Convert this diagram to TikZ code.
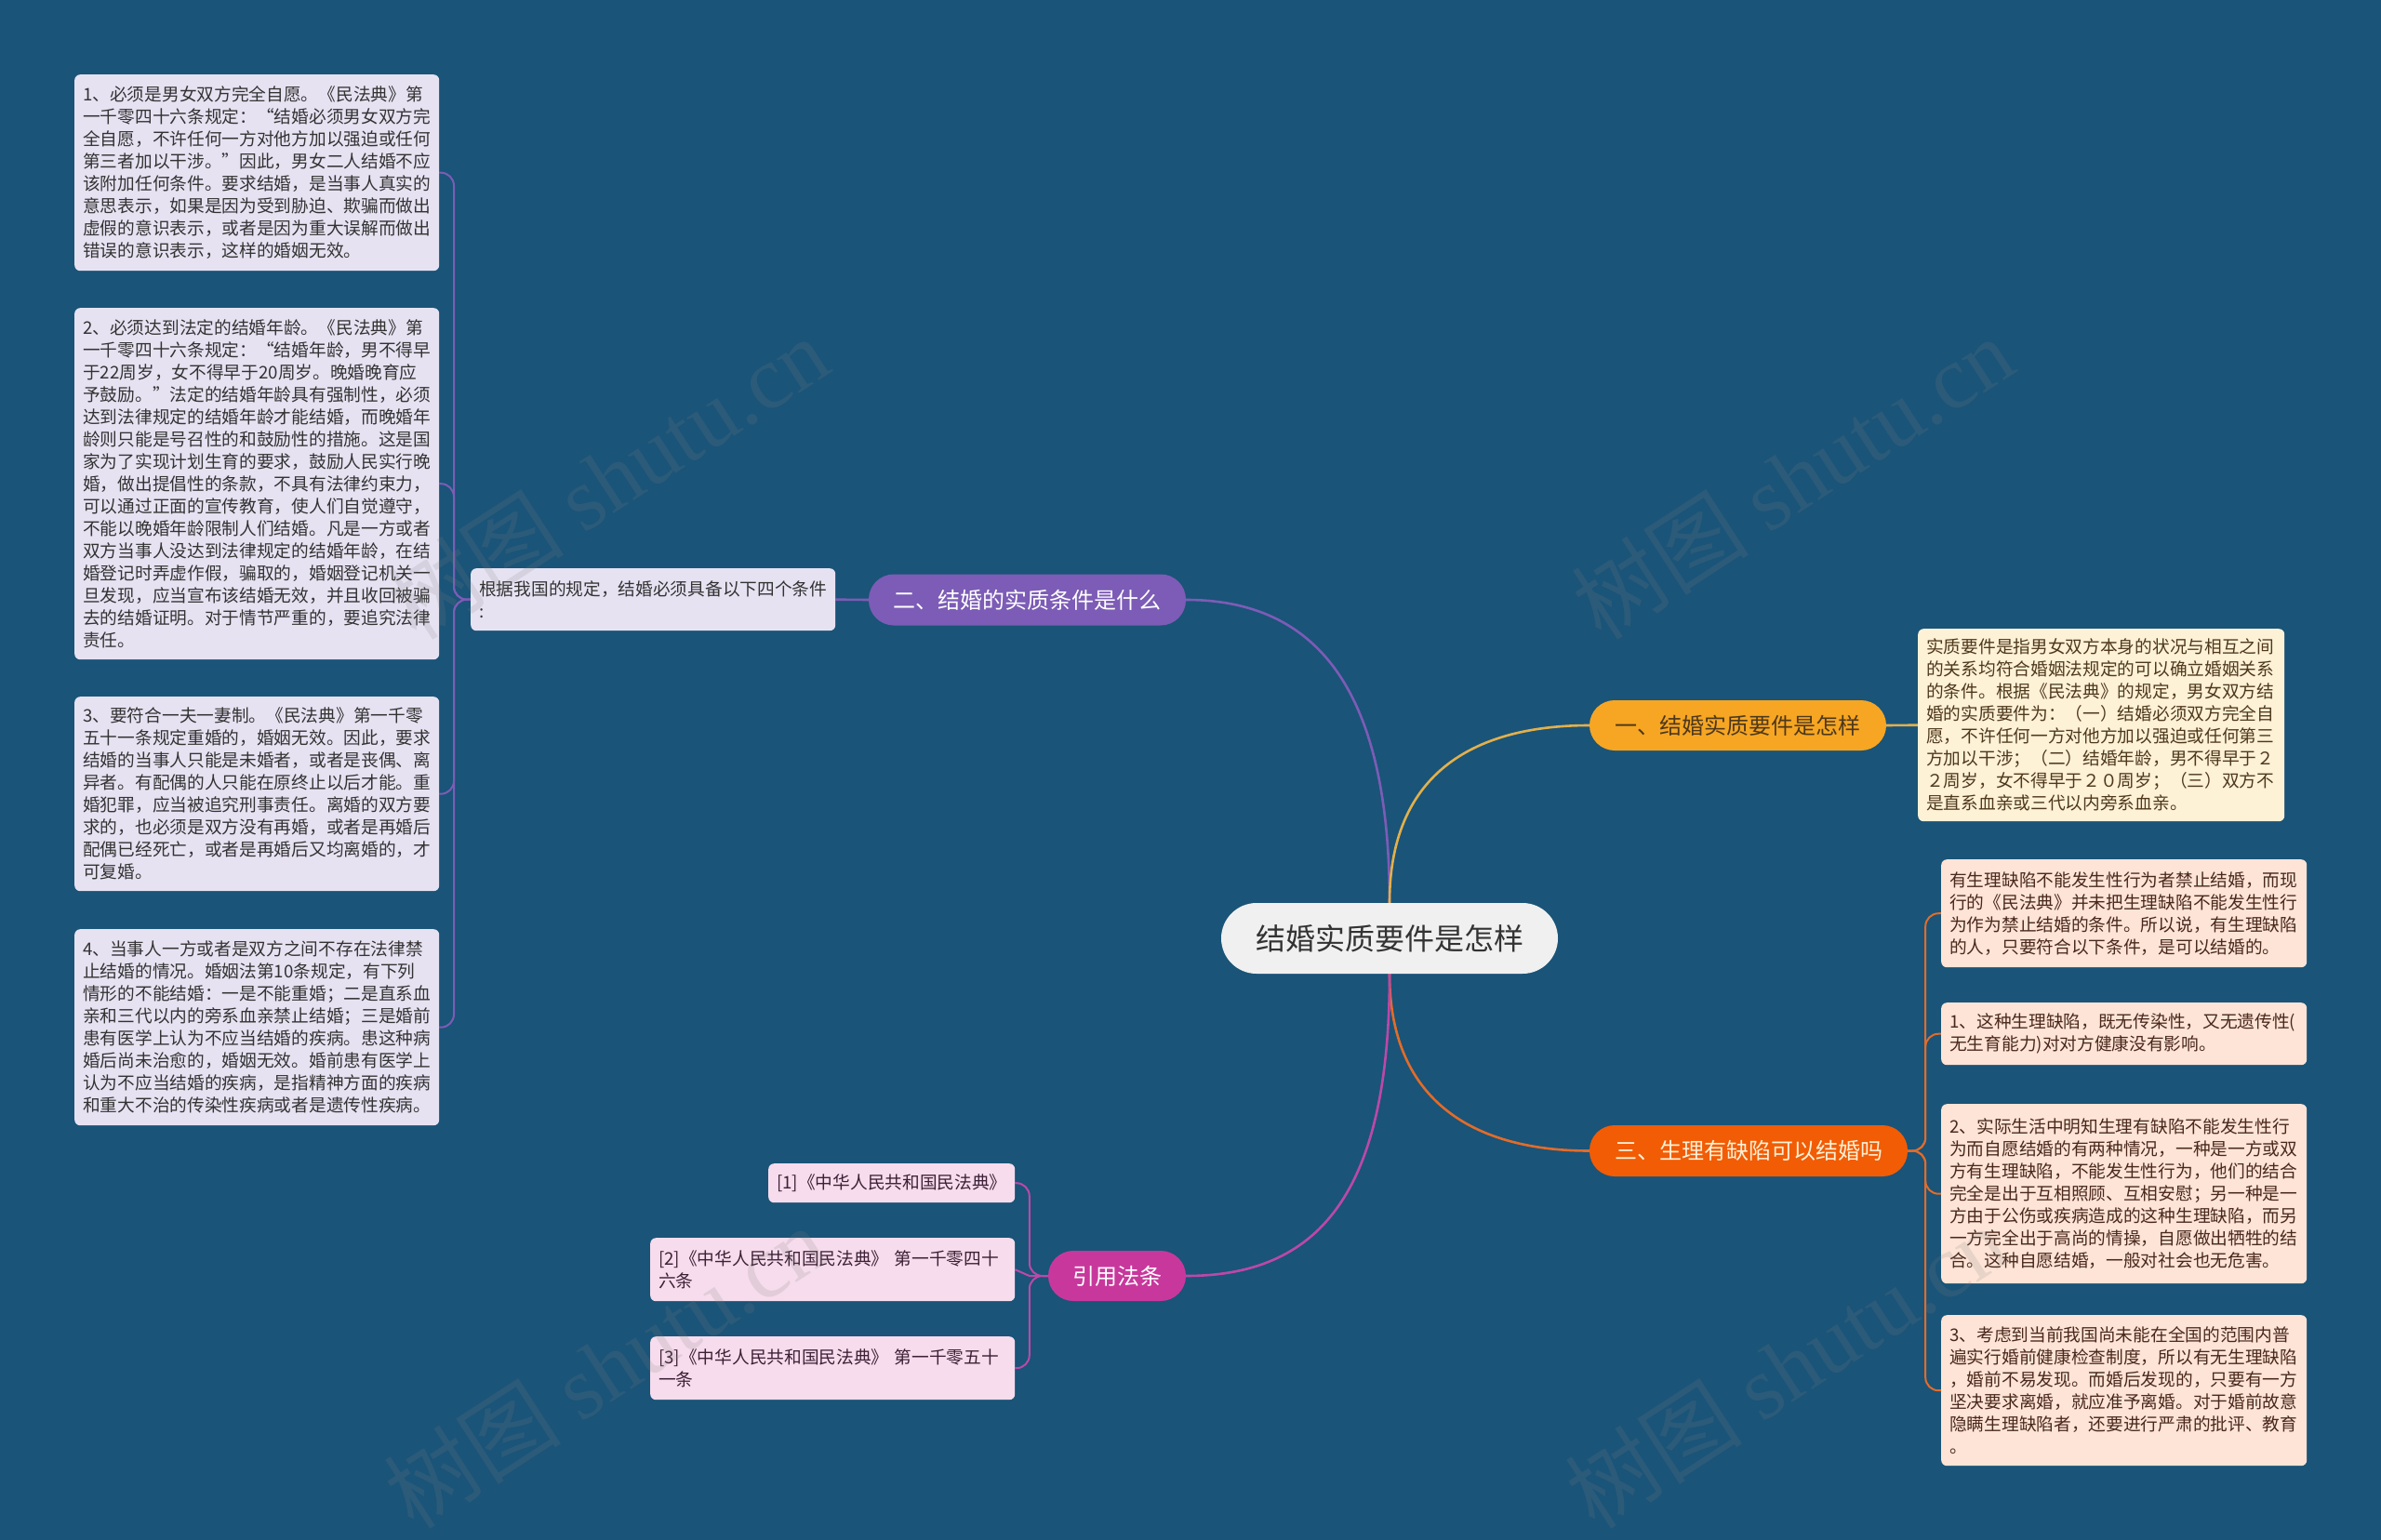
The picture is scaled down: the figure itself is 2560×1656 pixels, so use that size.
\documentclass[tikz,border=0pt]{standalone}
\usepackage{fontspec}
\setmainfont{Noto Sans CJK SC}
\newfontfamily\wmserif{Liberation Serif}
\pgfdeclarelayer{bglayer}
\pgfdeclarelayer{edgelayer}
\pgfsetlayers{bglayer,edgelayer,main}
\definecolor{bgc}{RGB}{26,84,120}
\definecolor{lav}{RGB}{231,226,242}
\definecolor{cream}{RGB}{253,241,214}
\definecolor{peach}{RGB}{253,228,214}
\definecolor{pinkb}{RGB}{246,220,236}
\definecolor{cent}{RGB}{240,240,240}
\definecolor{txt}{RGB}{51,51,51}
\definecolor{txtbr}{RGB}{78,56,28}
\definecolor{txtrd}{RGB}{74,40,28}
\definecolor{txtpk}{RGB}{62,32,54}
\definecolor{purp}{RGB}{124,92,182}
\definecolor{gold}{RGB}{246,166,35}
\definecolor{goldl}{RGB}{226,176,76}
\definecolor{oran}{RGB}{242,92,5}
\definecolor{oranl}{RGB}{226,108,42}
\definecolor{mag}{RGB}{200,56,156}
\definecolor{magl}{RGB}{188,72,168}
\begin{document}
\begin{tikzpicture}[x=1pt,y=-1pt,
  boxbase/.style={rounded corners=6pt, inner xsep=9pt, inner ysep=6pt, align=left, anchor=north west,
    font=\fontsize{18.7}{24}\selectfont},
  lbox/.style={boxbase, fill=lav, text=txt, text width=374pt},
  tbox/.style={boxbase, fill=cream, text=txtbr, text width=376pt},
  rbox/.style={boxbase, fill=peach, text=txtrd, text width=375pt},
  bbox/.style={boxbase, fill=pinkb, text=txtpk},
  topic/.style={rounded corners=27pt, minimum height=55pt, inner xsep=18pt, font=\fontsize{24}{28}\selectfont},
  conn/.style={line width=2.6pt},
  wmark/.style={rotate=33, text=gray, opacity=0.17, font=\fontsize{96}{106}\selectfont},
]
\begin{pgfonlayer}{bglayer}
\fill[bgc] (0,0) rectangle (2560,1656);
\end{pgfonlayer}
\useasboundingbox (0,0) rectangle (2560,1656);

% central and topic nodes
\node[fill=cent, text=txt, rounded corners=38pt, minimum width=362pt, minimum height=76pt, font=\fontsize{32}{36}\selectfont] (c) at (1494,1009) {结婚实质要件是怎样};
\node[topic, fill=purp, text=white, minimum width=341pt] (n2) at (1104.5,645) {二、结婚的实质条件是什么};
\node[topic, fill=gold, text=txtbr, minimum width=319pt, minimum height=54pt] (n1) at (1868.5,780) {一、结婚实质要件是怎样};
\node[topic, fill=oran, text=cream, minimum width=342pt] (n3) at (1880,1237.5) {三、生理有缺陷可以结婚吗};
\node[topic, fill=mag, text=white, minimum width=148pt, minimum height=54pt] (n4) at (1201,1372) {引用法条};

% left mid
\node[lbox, minimum height=67pt] (m) at (506,611) {根据我国的规定，结婚必须具备以下四个条件\\:};

% left boxes
\node[lbox, minimum height=211pt] (L1) at (80,80) {1、必须是男女双方完全自愿。《民法典》第\\一千零四十六条规定：“结婚必须男女双方完\\全自愿，不许任何一方对他方加以强迫或任何\\第三者加以干涉。”因此，男女二人结婚不应\\该附加任何条件。要求结婚，是当事人真实的\\意思表示，如果是因为受到胁迫、欺骗而做出\\虚假的意识表示，或者是因为重大误解而做出\\错误的意识表示，这样的婚姻无效。};
\node[lbox, minimum height=378pt] (L2) at (80,331) {2、必须达到法定的结婚年龄。《民法典》第\\一千零四十六条规定：“结婚年龄，男不得早\\于22周岁，女不得早于20周岁。晚婚晚育应\\予鼓励。”法定的结婚年龄具有强制性，必须\\达到法律规定的结婚年龄才能结婚，而晚婚年\\龄则只能是号召性的和鼓励性的措施。这是国\\家为了实现计划生育的要求，鼓励人民实行晚\\婚，做出提倡性的条款，不具有法律约束力，\\可以通过正面的宣传教育，使人们自觉遵守，\\不能以晚婚年龄限制人们结婚。凡是一方或者\\双方当事人没达到法律规定的结婚年龄，在结\\婚登记时弄虚作假，骗取的，婚姻登记机关一\\旦发现，应当宣布该结婚无效，并且收回被骗\\去的结婚证明。对于情节严重的，要追究法律\\责任。};
\node[lbox, minimum height=209pt] (L3) at (80,749) {3、要符合一夫一妻制。《民法典》第一千零\\五十一条规定重婚的，婚姻无效。因此，要求\\结婚的当事人只能是未婚者，或者是丧偶、离\\异者。有配偶的人只能在原终止以后才能。重\\婚犯罪，应当被追究刑事责任。离婚的双方要\\求的，也必须是双方没有再婚，或者是再婚后\\配偶已经死亡，或者是再婚后又均离婚的，才\\可复婚。};
\node[lbox, minimum height=211pt] (L4) at (80,999) {4、当事人一方或者是双方之间不存在法律禁\\止结婚的情况。婚姻法第10条规定，有下列\\情形的不能结婚：一是不能重婚；二是直系血\\亲和三代以内的旁系血亲禁止结婚；三是婚前\\患有医学上认为不应当结婚的疾病。患这种病\\婚后尚未治愈的，婚姻无效。婚前患有医学上\\认为不应当结婚的疾病，是指精神方面的疾病\\和重大不治的传染性疾病或者是遗传性疾病。};

% right top
\node[tbox, minimum height=207pt] (T) at (2062,676) {实质要件是指男女双方本身的状况与相互之间\\的关系均符合婚姻法规定的可以确立婚姻关系\\的条件。根据《民法典》的规定，男女双方结\\婚的实质要件为：（一）结婚必须双方完全自\\愿，不许任何一方对他方加以强迫或任何第三\\方加以干涉；（二）结婚年龄，男不得早于２\\２周岁，女不得早于２０周岁；（三）双方不\\是直系血亲或三代以内旁系血亲。};

% right boxes
\node[rbox, minimum height=116pt] (R1) at (2087,924) {有生理缺陷不能发生性行为者禁止结婚，而现\\行的《民法典》并未把生理缺陷不能发生性行\\为作为禁止结婚的条件。所以说，有生理缺陷\\的人，只要符合以下条件，是可以结婚的。};
\node[rbox, minimum height=67pt] (R2) at (2087,1078) {1、这种生理缺陷，既无传染性，又无遗传性(\\无生育能力)对对方健康没有影响。};
\node[rbox, minimum height=193pt] (R3) at (2087,1187) {2、实际生活中明知生理有缺陷不能发生性行\\为而自愿结婚的有两种情况，一种是一方或双\\方有生理缺陷，不能发生性行为，他们的结合\\完全是出于互相照顾、互相安慰；另一种是一\\方由于公伤或疾病造成的这种生理缺陷，而另\\一方完全出于高尚的情操，自愿做出牺牲的结\\合。这种自愿结婚，一般对社会也无危害。};
\node[rbox, minimum height=162pt] (R4) at (2087,1414) {3、考虑到当前我国尚未能在全国的范围内普\\遍实行婚前健康检查制度，所以有无生理缺陷\\，婚前不易发现。而婚后发现的，只要有一方\\坚决要求离婚，就应准予离婚。对于婚前故意\\隐瞒生理缺陷者，还要进行严肃的批评、教育\\。};

% bottom refs
\node[bbox, text width=247pt, minimum height=42pt] (B1) at (826,1251) {[1]《中华人民共和国民法典》};
\node[bbox, text width=374pt, minimum height=68pt] (B2) at (699,1331) {[2]《中华人民共和国民法典》 第一千零四十\\六条};
\node[bbox, text width=374pt, minimum height=68pt] (B3) at (699,1437) {[3]《中华人民共和国民法典》 第一千零五十\\一条};

\begin{pgfonlayer}{edgelayer}
% main curves
\draw[conn, purp] (c.north) .. controls +(0,-230) and +(140,0) .. (n2.east);
\draw[conn, goldl] (c.north) .. controls +(0,-150) and +(-110,0) .. (n1.west);
\draw[conn, oranl] (c.south) .. controls +(0,140) and +(-120,0) .. (n3.west);
\draw[conn, magl] (c.south) .. controls +(0,240) and +(140,0) .. (n4.east);
% topic to children
\draw[conn, purp] (n2.west) -- (m.east);
\draw[conn, goldl] (n1.east) -- (T.west);
\foreach \b in {L1,L2,L3,L4}{
  \draw[conn, purp, line width=2pt, rounded corners=14pt] (m.west) -- ++(-18,0) |- (\b.east);
}
\foreach \b in {R1,R2,R3,R4}{
  \draw[conn, oranl, line width=2pt, rounded corners=14pt] (n3.east) -- ++(19,0) |- (\b.west);
}
\draw[conn, magl, line width=2pt, rounded corners=14pt] (n4.west) -- ++(-20,0) |- (B1.east);
\draw[conn, magl, line width=2pt] (n4.west) -- ++(-20,0) -- (B2.east);
\draw[conn, magl, line width=2pt, rounded corners=14pt] (n4.west) -- ++(-20,0) |- (B3.east);
\end{pgfonlayer}

% watermarks
\node[wmark] (w1) at (653,514) {树图 {\wmserif shutu.cn}};
\node[wmark] (w2) at (1927,514) {树图 {\wmserif shutu.cn}};
\node[wmark] (w3) at (650,1470) {树图 {\wmserif shutu.cn}};
\node[wmark] (w4) at (1920,1470) {树图 {\wmserif shutu.cn}};
\end{tikzpicture}
\end{document}
